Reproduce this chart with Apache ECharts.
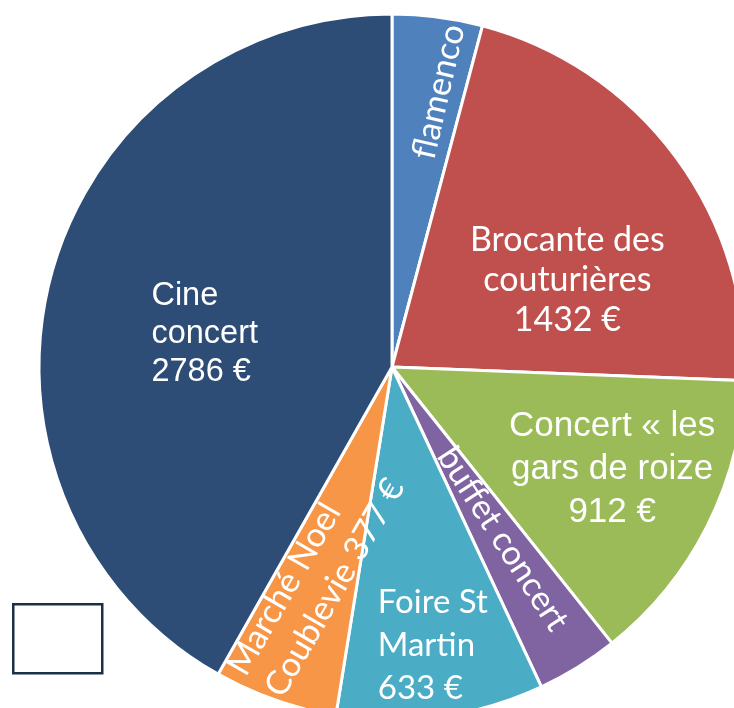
<!DOCTYPE html>
<html><head><meta charset="utf-8">
<script src="https://cdn.jsdelivr.net/npm/echarts@6/dist/echarts.min.js"></script>
<style>html,body{margin:0;padding:0;background:#fff}#c{width:734px;height:708px}</style>
</head><body><div id="c"></div>
<script>
// ---- data ----
const categories = ['flamenco', 'Brocante des couturières', 'Concert « les gars de roize', 'buffet concert', 'Foire St Martin', 'Marché Noel Coublevie', 'Cine concert'];
const values = [275, 1432, 912, 250, 633, 377, 2786];
const labelTemplates = ['flamenco', 'Brocante des\ncouturières\n{c} €', 'Concert « les\ngars de roize\n{c} €', 'buffet concert', 'Foire St\nMartin\n{c} €', 'Marché Noel\nCoublevie {c} €', 'Cine\nconcert\n{c} €'];

// ---- styles ----
const colors = ['#4F81BD', '#C0504D', '#9BBB59', '#8064A2', '#4BACC6', '#F79646', '#2D4C76'];
const calibriLike = 'Lato, "Open Sans", sans-serif';
const arialLike = '"Liberation Sans", Arial, sans-serif';
const labelStyles = [
  {rotate: 77, fontFamily: calibriLike, fontSize: 34, lineHeight: 40},
  {rotate: 0, fontFamily: calibriLike, fontSize: 34, lineHeight: 40},
  {rotate: 0, fontFamily: arialLike, fontSize: 35, lineHeight: 43},
  {rotate: -57, fontFamily: calibriLike, fontSize: 34, lineHeight: 40},
  {rotate: 0, fontFamily: calibriLike, fontSize: 33, lineHeight: 43},
  {rotate: 60, fontFamily: calibriLike, fontSize: 34, lineHeight: 43},
  {rotate: 0, fontFamily: arialLike, fontSize: 32.5, lineHeight: 38}
];
// label shifts (in the label's own rotated frame)
const labelMoves = [
  {dx: 100, dy: 1},
  {dx: 31, dy: 20},
  {dx: 60, dy: 21},
  {dx: 25, dy: -3},
  {dx: -39, dy: 101, align: 'left'},
  {dx: -166, dy: 6, align: 'left'},
  {dx: -67, dy: 13, align: 'left'}
];

const seriesData = categories.map((name, i) => ({
  name: name,
  value: values[i],
  itemStyle: {color: colors[i]},
  label: Object.assign({formatter: labelTemplates[i]}, labelStyles[i])
}));

const chart = echarts.init(document.getElementById('c'), null, {renderer: 'canvas'});
chart.setOption({
  animation: false,
  backgroundColor: '#ffffff',
  graphic: [{
    type: 'rect',
    left: 12, top: 603,
    shape: {width: 89, height: 69},
    style: {fill: '#ffffff', stroke: '#1B2F45', lineWidth: 2.5}
  }],
  series: [{
    type: 'pie',
    center: [392, 367],
    radius: 353,
    startAngle: 90,
    clockwise: true,
    avoidLabelOverlap: false,
    itemStyle: {borderColor: '#ffffff', borderWidth: 3},
    label: {show: true, position: 'inside', color: '#ffffff'},
    labelLine: {show: false},
    labelLayout: function (p) { return labelMoves[p.dataIndex]; },
    data: seriesData
  }]
});
</script>
</body></html>
